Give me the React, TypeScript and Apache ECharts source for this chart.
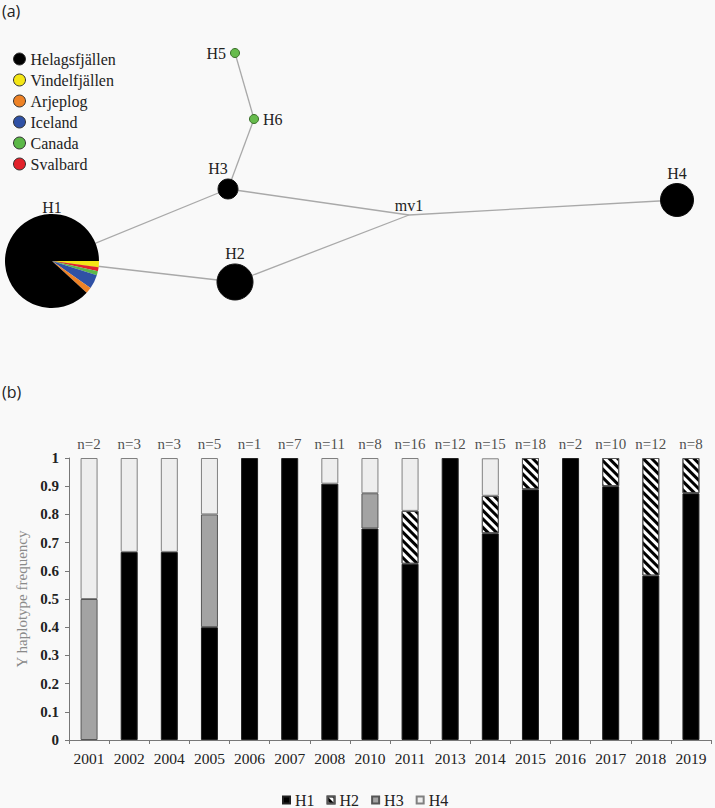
import React, { useEffect, useRef } from 'react';
import * as echarts from 'echarts';

// ---------- Panel (a): haplotype network ----------
const nodeNames = ['H1', 'H2', 'H3', 'H4', 'H5', 'H6', 'mv1'];
const nodeX = [52, 235, 228, 677, 235, 254, 409];
const nodeY = [261, 282, 189, 200, 53, 119, 215];
const nodeSizes = [0, 36, 20, 33, 9, 9, 0];
const nodeColors = ['#000000', '#000000', '#000000', '#000000', '#66bb4c', '#66bb4c', '#a9a9a9'];
const edgeSources = ['H1', 'H1', 'H3', 'H2', 'mv1', 'H3', 'H6'];
const edgeTargets = ['H3', 'H2', 'mv1', 'mv1', 'H4', 'H6', 'H5'];

const regions = ['Helagsfjällen', 'Vindelfjällen', 'Arjeplog', 'Iceland', 'Canada', 'Svalbard'];
const regionColors = ['#000000', '#f4e616', '#ee8226', '#2f51a5', '#5cb848', '#e2222b'];
// H1 pie, clockwise from 3 o'clock
const pieOrder = ['Vindelfjällen', 'Svalbard', 'Canada', 'Iceland', 'Arjeplog', 'Helagsfjällen'];
const pieCounts = [3, 2, 2, 7, 3, 127];

// ---------- Panel (b): Y haplotype frequency per year ----------
const years = ['2001', '2002', '2004', '2005', '2006', '2007', '2008', '2010', '2011', '2013', '2014', '2015', '2016', '2017', '2018', '2019'];
const sampleSizes = [2, 3, 3, 5, 1, 7, 11, 8, 16, 12, 15, 18, 2, 10, 12, 8];
const h1Freq = [0, 0.667, 0.667, 0.4, 1, 1, 0.909, 0.75, 0.625, 1, 0.733, 0.889, 1, 0.9, 0.583, 0.875];
const h2Freq = [0, 0, 0, 0, 0, 0, 0, 0, 0.1875, 0, 0.133, 0.111, 0, 0.1, 0.417, 0.125];
const h3Freq = [0.5, 0, 0, 0.4, 0, 0, 0, 0.125, 0, 0, 0, 0, 0, 0, 0, 0];
const h4Freq = [0.5, 0.333, 0.333, 0.2, 0, 0, 0.091, 0.125, 0.1875, 0, 0.133, 0, 0, 0, 0, 0];
const haplotypes = ['H1', 'H2', 'H3', 'H4'];

const SERIF = 'Liberation Serif';

export default function App() {
  const ref = useRef<HTMLDivElement>(null);

  useEffect(() => {
    if (!ref.current) return;
    const chart = echarts.init(ref.current, null, { renderer: 'svg' });

    const labelPos: Record<string, any> = {
      H1: { position: 'top', distance: 46 },
      H2: { position: 'top', distance: 2 },
      H3: { position: 'top', distance: 2, offset: [-10, 0] },
      H4: { position: 'top', distance: 2 },
      H5: { position: 'left', distance: 4 },
      H6: { position: 'right', distance: 4 },
      mv1: { position: 'top', distance: 2 },
    };

    const noZero = (arr: number[]) => arr.map((v) => (v === 0 ? '-' : v));

    const barStyles = [
      { color: '#000000', borderColor: '#222222', borderWidth: 1 },
      {
        color: '#ffffff',
        borderColor: '#555555',
        borderWidth: 1,
        decal: {
          symbol: 'rect',
          symbolSize: 1,
          color: '#000000',
          dashArrayX: [1, 0],
          dashArrayY: [3, 3],
          rotation: Math.PI / 4,
        },
      },
      { color: '#a3a3a3', borderColor: '#555555', borderWidth: 1 },
      { color: '#eeeeee', borderColor: '#808080', borderWidth: 1 },
    ];
    const freqs = [h1Freq, h2Freq, h3Freq, h4Freq];

    const option: any = {
      animation: false,
      backgroundColor: '#f9f9f9',
      textStyle: { fontFamily: SERIF },
      graphic: [
        { type: 'text', left: 2, top: 3, style: { text: '(a)', fontFamily: 'Open Sans', fontSize: 16, fill: '#222' } },
        { type: 'text', left: 2, top: 384, style: { text: '(b)', fontFamily: 'Open Sans', fontSize: 16, fill: '#222' } },
      ],
      legend: [
        {
          orient: 'vertical',
          left: 13,
          top: 51,
          padding: 0,
          itemWidth: 12,
          itemHeight: 12,
          itemGap: 5,
          icon: 'circle',
          selectedMode: false,
          data: regions,
          itemStyle: { borderColor: '#333', borderWidth: 1 },
          textStyle: { fontFamily: SERIF, fontSize: 16, color: '#222', lineHeight: 16 },
        },
        {
          orient: 'horizontal',
          left: 282,
          top: 792,
          padding: 0,
          itemWidth: 7,
          itemHeight: 7,
          itemGap: 12,
          icon: 'rect',
          selectedMode: false,
          data: haplotypes,
          textStyle: { fontFamily: SERIF, fontSize: 16, color: '#222' },
        },
      ],
      grid: { left: 69, top: 458, width: 642, height: 282, containLabel: false },
      xAxis: {
        type: 'category',
        data: years,
        axisLine: { show: true, lineStyle: { color: '#777', width: 1 } },
        axisTick: { show: true, length: 4, lineStyle: { color: '#777' } },
        axisLabel: { interval: 0, fontFamily: SERIF, fontSize: 15.5, color: '#222', margin: 10 },
        splitLine: { show: false },
      },
      yAxis: {
        type: 'value',
        min: 0,
        max: 1,
        interval: 0.1,
        name: 'Y haplotype frequency',
        nameLocation: 'middle',
        nameGap: 39,
        nameTextStyle: { fontFamily: SERIF, fontSize: 15, color: '#8a8a8a' },
        axisLine: { show: true, lineStyle: { color: '#777', width: 1 } },
        axisTick: { show: true, length: 4, lineStyle: { color: '#777' } },
        axisLabel: { fontFamily: SERIF, fontSize: 15, fontWeight: 'bold', color: '#222', margin: 10 },
        splitLine: { show: false },
      },
      series: [
        {
          type: 'graph',
          layout: 'none',
          left: 52,
          top: 53,
          width: 625,
          height: 229,
          roam: false,
          silent: true,
          z: 2,
          data: nodeNames.map((n, i) => ({
            name: n,
            x: nodeX[i],
            y: nodeY[i],
            symbolSize: nodeSizes[i],
            itemStyle: { color: nodeColors[i], borderColor: i >= 4 && i <= 5 ? '#3a6e2a' : '#111', borderWidth: nodeSizes[i] ? 1 : 0 },
            label: { show: true, fontFamily: SERIF, fontSize: 16, color: '#222', ...labelPos[n] },
          })),
          links: edgeSources.map((s, i) => ({ source: s, target: edgeTargets[i] })),
          lineStyle: { color: '#a9a9a9', width: 1.3, opacity: 1, curveness: 0 },
          label: { fontFamily: SERIF, fontSize: 16, color: '#222' },
          emphasis: { disabled: true },
        },
        {
          type: 'pie',
          center: [nodeX[0], nodeY[0]],
          radius: 47,
          startAngle: 0,
          clockwise: true,
          silent: true,
          z: 5,
          label: { show: false },
          labelLine: { show: false },
          itemStyle: { borderWidth: 0 },
          data: pieOrder.map((name, i) => ({
            name,
            value: pieCounts[i],
            itemStyle: { color: regionColors[regions.indexOf(name)] },
          })),
        },
        ...haplotypes.map((h, i) => ({
          type: 'bar',
          name: h,
          stack: 'freq',
          barWidth: 17,
          silent: true,
          data: noZero(freqs[i]),
          itemStyle: barStyles[i],
        })),
        {
          type: 'scatter',
          name: 'n',
          data: years.map(() => 1),
          symbolSize: 0,
          clip: false,
          silent: true,
          label: {
            show: true,
            position: 'top',
            distance: 7,
            formatter: (p: any) => 'n=' + sampleSizes[p.dataIndex],
            fontFamily: SERIF,
            fontSize: 15,
            color: '#222',
          },
        },
      ],
    };

    chart.setOption(option);
    return () => chart.dispose();
  }, []);

  return <div ref={ref} style={{ position: 'absolute', left: 0, top: 0, width: 715, height: 808 }} />;
}
